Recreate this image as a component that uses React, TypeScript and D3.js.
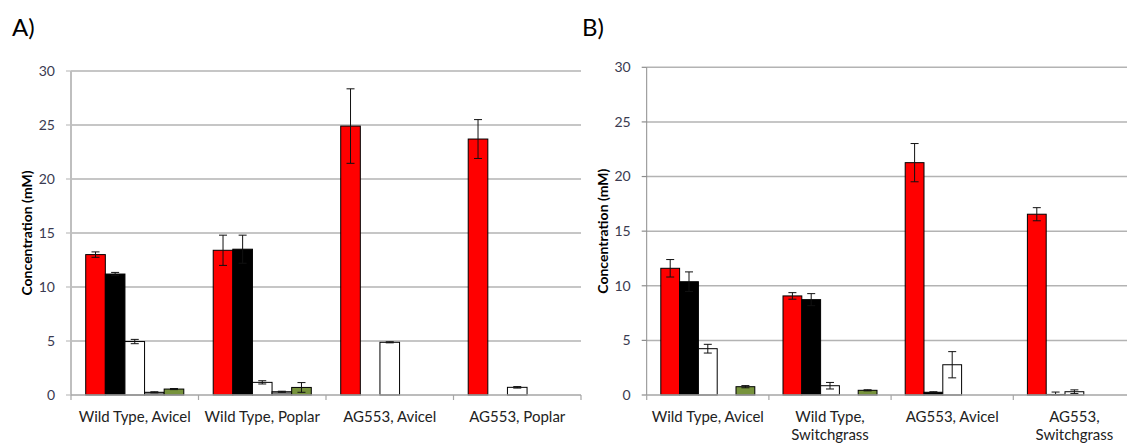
import * as d3 from "d3";

const W = 1127;
const H = 444;

const SERIES = ["s1", "s2", "s3", "s4", "s5"];
const FILLS = ["#ff0000", "#000000", "#ffffff", "#7f7f7f", "#77933c"];

const Y_TICKS = [0, 5, 10, 15, 20, 25, 30];

// Panel A
const catsA = [["Wild Type, Avicel"], ["Wild Type, Poplar"], ["AG553, Avicel"], ["AG553, Poplar"]];
const valsA: (number | null)[][] = [
  [13.0, 13.4, 24.9, 23.7],
  [11.2, 13.5, null, null],
  [4.95, 1.17, 4.88, 0.71],
  [0.25, 0.3, null, null],
  [0.55, 0.7, null, null],
];
const errA: number[][] = [
  [0.25, 1.4, 3.45, 1.8],
  [0.15, 1.3, 0, 0],
  [0.2, 0.15, 0.05, 0.07],
  [0.05, 0.05, 0, 0],
  [0.05, 0.45, 0, 0],
];

// Panel B
const catsB = [["Wild Type, Avicel"], ["Wild Type,", "Switchgrass"], ["AG553, Avicel"], ["AG553,", "Switchgrass"]];
const valsB: (number | null)[][] = [
  [11.6, 9.07, 21.27, 16.55],
  [10.37, 8.73, 0.25, 0.05],
  [4.24, 0.85, 2.77, 0.3],
  [null, null, null, null],
  [0.76, 0.43, null, null],
];
const errB: number[][] = [
  [0.8, 0.3, 1.75, 0.6],
  [0.9, 0.55, 0.05, 0.22],
  [0.4, 0.3, 1.2, 0.17],
  [0, 0, 0, 0],
  [0.1, 0.05, 0, 0],
];

const FONT = "Lato, 'Open Sans', sans-serif";

type PanelProps = {
  title: string;
  titleX: number;
  cats: string[][];
  vals: (number | null)[][];
  errs: number[][];
  x0: number;
  x1: number;
  yTop: number;
  yBot: number;
  axisStroke: string;
  axisWidth: number;
};

function Panel({ title, titleX, cats, vals, errs, x0, x1, yTop, yBot, axisStroke, axisWidth }: PanelProps) {
  const keys = cats.map((c) => c.join(" "));
  const x = d3.scaleBand<string>().domain(keys).range([x0, x1]).padding(0);
  const inner = d3.scaleBand<string>().domain(SERIES).range([0, x.bandwidth()]).paddingInner(0).paddingOuter(0.75);
  const y = d3.scaleLinear().domain([0, 30]).range([yBot, yTop]);
  const bw = inner.bandwidth();
  const bounds = keys.map((k) => x(k)!).concat([x1]);

  return (
    <g>
      <text x={titleX} y={36} fontSize={24} fontFamily={FONT} fill="#000">{title}</text>
      {/* grid */}
      {Y_TICKS.map((t) => (
        <g key={t}>
          {t > 0 && <line x1={x0} x2={x1} y1={y(t)} y2={y(t)} stroke="#b3b3b3" strokeWidth={1.5} />}
          <line x1={x0 - 5} x2={x0} y1={y(t)} y2={y(t)} stroke={axisStroke} strokeWidth={1.2} />
          <text x={x0 - 16} y={y(t)} dy="0.35em" textAnchor="end" fontSize={14} fontFamily={FONT} fill="#3a3a50">{t}</text>
        </g>
      ))}
      {/* bars */}
      {SERIES.map((s, si) =>
        keys.map((k, ci) => {
          const v = vals[si][ci];
          if (v == null) return null;
          const bx = x(k)! + inner(s)!;
          return (
            <rect key={s + k} x={bx} y={y(v)} width={bw} height={y(0) - y(v)}
              fill={FILLS[si]} stroke="#000" strokeWidth={1} />
          );
        })
      )}
      {/* error bars */}
      {SERIES.map((s, si) =>
        keys.map((k, ci) => {
          const v = vals[si][ci];
          const e = errs[si][ci];
          if (v == null || !e) return null;
          const cx = x(k)! + inner(s)! + bw / 2;
          const lo = y(Math.max(0, v - e));
          const hi = y(v + e);
          return (
            <g key={"e" + s + k} stroke="#111" strokeWidth={1}>
              <line x1={cx} x2={cx} y1={hi} y2={lo} />
              <line x1={cx - 4} x2={cx + 4} y1={hi} y2={hi} />
              <line x1={cx - 4} x2={cx + 4} y1={lo} y2={lo} />
            </g>
          );
        })
      )}
      {/* axes */}
      <line x1={x0} x2={x0} y1={yTop} y2={yBot} stroke={axisStroke} strokeWidth={axisWidth} />
      <line x1={x0} x2={x1} y1={yBot} y2={yBot} stroke="#a6a6a6" strokeWidth={1.5} />
      {bounds.map((b, i) => (
        <line key={i} x1={b} x2={b} y1={yBot} y2={yBot + 5} stroke="#a6a6a6" strokeWidth={1.2} />
      ))}
      {cats.map((lines, ci) => (
        <text key={ci} textAnchor="middle" fontSize={15} fontFamily={FONT} fill="#222">
          {lines.map((l, li) => (
            <tspan key={li} x={x(keys[ci])! + x.bandwidth() / 2} y={422 + li * 18}>{l}</tspan>
          ))}
        </text>
      ))}
      <text transform={`translate(${x0 - 44},${(yTop + yBot) / 2}) rotate(-90)`} textAnchor="middle"
        dy="0.35em" fontSize={14} fontWeight="bold" fontFamily={FONT} fill="#000">
        Concentration (mM)
      </text>
    </g>
  );
}

export default function App() {
  return (
    <svg width={W} height={H} style={{ position: "absolute", left: 0, top: 0, background: "#fff" }}>
      <rect width={W} height={H} fill="#fff" />
      <Panel title="A)" titleX={12} cats={catsA} vals={valsA} errs={errA}
        x0={71} x1={581} yTop={71} yBot={395} axisStroke="#bfbfbf" axisWidth={2} />
      <Panel title="B)" titleX={582} cats={catsB} vals={valsB} errs={errB}
        x0={646.7} x1={1135.5} yTop={67.3} yBot={395} axisStroke="#8c8c8c" axisWidth={1} />
    </svg>
  );
}
